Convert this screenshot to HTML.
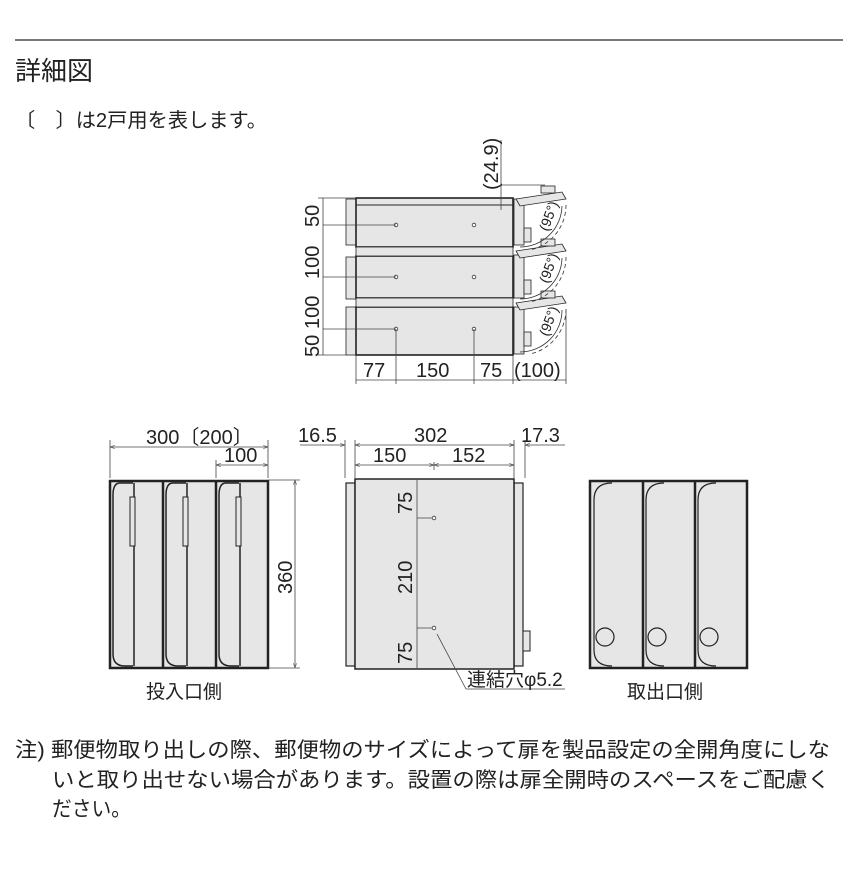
<!DOCTYPE html>
<html><head><meta charset="utf-8"><style>
html,body{margin:0;padding:0;background:#fff;}
svg{display:block;font-family:"Liberation Sans","Noto Sans CJK JP",sans-serif;}
</style></head><body>
<svg width="863" height="877" viewBox="0 0 863 877" xmlns="http://www.w3.org/2000/svg">
<defs>
<marker id="a" viewBox="0 0 6 6" refX="6" refY="3" markerWidth="6" markerHeight="6" orient="auto-start-reverse"><path d="M0,1 L6,3 L0,5" fill="none" stroke="#555" stroke-width="0.8"/></marker>
</defs>
<line x1="15" y1="40" x2="843" y2="40" stroke="#777" stroke-width="2"/>
<text x="15" y="80" font-size="26" fill="#222">詳細図</text>
<text x="15" y="127" font-size="20" fill="#222" textLength="252" lengthAdjust="spacingAndGlyphs">〔　〕は2戸用を表します。</text>

<!-- TOP VIEW -->
<g stroke="#222" fill="#e6e6e6">
<rect x="346" y="199" width="10" height="46" stroke-width="0.8"/>
<rect x="346" y="257" width="10" height="42" stroke-width="0.8"/>
<rect x="346" y="307" width="10" height="48" stroke-width="0.8"/>
<rect x="356" y="198" width="157" height="49" stroke-width="1.6"/>
<line x1="356" y1="205" x2="513" y2="205" stroke-width="1"/>
<rect x="356" y="256" width="157" height="42" stroke-width="1.6"/>
<rect x="356" y="247" width="157" height="9" stroke-width="0.8"/>
<rect x="356" y="307" width="157" height="48" stroke-width="1.6"/>
<rect x="356" y="298" width="157" height="9" stroke-width="0.8"/>
<rect x="514" y="199" width="10" height="46" stroke-width="0.8"/>
<rect x="514" y="255" width="10" height="43" stroke-width="0.8"/>
<rect x="514" y="307" width="10" height="47" stroke-width="0.8"/>
<path d="M516,199 L562,192 L566,199 L520,206 Z" stroke-width="0.8"/>
<path d="M516,251 L562,244 L566,251 L520,258 Z" stroke-width="0.8"/>
<path d="M516,303 L562,296 L566,303 L520,310 Z" stroke-width="0.8"/>
<rect x="541" y="186" width="14" height="7" stroke-width="0.8"/>
<rect x="541" y="239" width="14" height="7" stroke-width="0.8"/>
<rect x="541" y="291" width="14" height="7" stroke-width="0.8"/>
<rect x="524" y="228" width="7" height="14" stroke-width="0.8"/>
<rect x="524" y="280" width="7" height="14" stroke-width="0.8"/>
<rect x="524" y="332" width="7" height="14" stroke-width="0.8"/>
</g>
<g fill="none" stroke="#333" stroke-width="0.8">
<path d="M562,206 A42,42 0 0 1 520,247"/>
<path d="M562,258 A42,42 0 0 1 520,299"/>
<path d="M562,310 A42,42 0 0 1 520,352"/>
<path d="M566,205 A46,46 0 0 1 530,250" stroke-dasharray="4,3"/>
<path d="M566,257 A46,46 0 0 1 530,302" stroke-dasharray="4,3"/>
<path d="M566,309 A46,46 0 0 1 530,354" stroke-dasharray="4,3"/>
</g>
<g font-size="14" fill="#222">
<text transform="translate(548,232) rotate(-70)">(95°)</text>
<text transform="translate(548,284) rotate(-70)">(95°)</text>
<text transform="translate(548,337) rotate(-70)">(95°)</text>
</g>
<g fill="#fff" stroke="#333" stroke-width="0.8">
<circle cx="396" cy="225" r="1.8"/><circle cx="474" cy="225" r="1.8"/>
<circle cx="396" cy="277" r="1.8"/><circle cx="474" cy="277" r="1.8"/>
<circle cx="396" cy="329" r="1.8"/><circle cx="474" cy="329" r="1.8"/>
</g>
<g stroke="#444" stroke-width="0.8" fill="none">
<line x1="318" y1="198" x2="356" y2="198"/>
<line x1="318" y1="355" x2="346" y2="355"/>
<line x1="323" y1="198" x2="323" y2="355"/>
<line x1="323" y1="225" x2="396" y2="225"/>
<line x1="323" y1="277" x2="396" y2="277"/>
<line x1="323" y1="329" x2="396" y2="329"/>
<line x1="396" y1="329" x2="396" y2="384"/>
<line x1="474" y1="329" x2="474" y2="384"/>
<line x1="356" y1="355" x2="356" y2="384"/>
<line x1="513" y1="355" x2="513" y2="384"/>
<line x1="566" y1="310" x2="566" y2="384"/>
<line x1="356" y1="380" x2="566" y2="380"/>
<line x1="501" y1="140" x2="501" y2="210"/>
<line x1="501" y1="185" x2="545" y2="185"/>
</g>
<g font-size="20" fill="#222">
<text transform="translate(319,227) rotate(-90)">50</text>
<text transform="translate(319,279) rotate(-90)">100</text>
<text transform="translate(319,329) rotate(-90)">100</text>
<text transform="translate(319,357) rotate(-90)">50</text>
<text transform="translate(498,190) rotate(-90)">(24.9)</text>
<text x="363" y="377">77</text>
<text x="416" y="377">150</text>
<text x="480" y="377">75</text>
<text x="514" y="377">(100)</text>
</g>

<!-- FRONT LEFT -->
<g stroke="#222" stroke-width="2.5" fill="#e6e6e6">
<rect x="110" y="481" width="158" height="187"/>
<line x1="163" y1="481" x2="163" y2="668"/>
<line x1="216" y1="481" x2="216" y2="668"/>
</g>
<g stroke="#222" stroke-width="1.5" fill="none">
<path d="M133,483 L120,483 Q113,483 113,495 L113,654 Q113,666 125,666 L133,666"/>
<path d="M186,483 L173,483 Q166,483 166,495 L166,654 Q166,666 178,666 L186,666"/>
<path d="M239,483 L226,483 Q219,483 219,495 L219,654 Q219,666 231,666 L239,666"/>
<line x1="134" y1="483" x2="134" y2="666"/>
<line x1="187" y1="483" x2="187" y2="666"/>
<line x1="240" y1="483" x2="240" y2="666"/>
</g>
<g fill="#e6e6e6" stroke="#222" stroke-width="1">
<rect x="130" y="497" width="5" height="49"/>
<rect x="183" y="497" width="5" height="49"/>
<rect x="236" y="497" width="5" height="49"/>
</g>
<g stroke="#444" stroke-width="0.8" fill="none">
<line x1="110" y1="440" x2="110" y2="478"/>
<line x1="268" y1="440" x2="268" y2="478"/>
<line x1="216" y1="460" x2="216" y2="478"/>
<line x1="110" y1="447" x2="268" y2="447" marker-start="url(#a)" marker-end="url(#a)"/>
<line x1="216" y1="465" x2="268" y2="465" marker-start="url(#a)" marker-end="url(#a)"/>
<line x1="268" y1="480" x2="300" y2="480"/>
<line x1="268" y1="668" x2="300" y2="668"/>
<line x1="295" y1="480" x2="295" y2="668" marker-start="url(#a)" marker-end="url(#a)"/>
</g>
<g font-size="20" fill="#222">
<text x="146" y="444">300〔200〕</text>
<text x="224" y="462">100</text>
<text transform="translate(292,594) rotate(-90)">360</text>
<text x="146" y="698" font-size="19">投入口側</text>
</g>

<!-- SIDE MIDDLE -->
<g stroke="#222" fill="#e6e6e6">
<rect x="346" y="483" width="9" height="183" stroke-width="1.2"/>
<rect x="514" y="483" width="9" height="183" stroke-width="1.2"/>
<rect x="355" y="479" width="159" height="190" stroke-width="1.5"/>
<rect x="523" y="631" width="7" height="20" stroke-width="1"/>
</g>
<g stroke="#444" stroke-width="0.8" fill="none">
<line x1="345" y1="440" x2="345" y2="478"/>
<line x1="355" y1="440" x2="355" y2="478"/>
<line x1="514" y1="440" x2="514" y2="478"/>
<line x1="525" y1="440" x2="525" y2="478"/>
<line x1="434" y1="462" x2="434" y2="470"/>
<line x1="300" y1="445" x2="345" y2="445" marker-end="url(#a)"/>
<line x1="355" y1="445" x2="514" y2="445" marker-start="url(#a)" marker-end="url(#a)"/>
<line x1="525" y1="445" x2="565" y2="445" marker-start="url(#a)"/>
<line x1="355" y1="465" x2="434" y2="465" marker-start="url(#a)" marker-end="url(#a)"/>
<line x1="434" y1="465" x2="514" y2="465" marker-start="url(#a)" marker-end="url(#a)"/>
<line x1="417" y1="480" x2="417" y2="668"/>
<line x1="417" y1="518" x2="434" y2="518"/>
<line x1="417" y1="628" x2="434" y2="628"/>
<line x1="437" y1="634" x2="466" y2="689"/>
<line x1="466" y1="689" x2="565" y2="689"/>
</g>
<g fill="#fff" stroke="#333" stroke-width="0.8">
<circle cx="434" cy="518" r="1.8"/><circle cx="434" cy="628" r="1.8"/>
</g>
<g font-size="20" fill="#222">
<text x="298" y="442">16.5</text>
<text x="414" y="442">302</text>
<text x="521" y="442">17.3</text>
<text x="373" y="462">150</text>
<text x="452" y="462">152</text>
<text transform="translate(412,514) rotate(-90)">75</text>
<text transform="translate(412,594) rotate(-90)">210</text>
<text transform="translate(412,664) rotate(-90)">75</text>
<text x="467" y="686" font-size="19">連結穴φ5.2</text>
</g>

<!-- BACK RIGHT -->
<g stroke="#222" stroke-width="2.5" fill="#e6e6e6">
<rect x="590" y="481" width="157" height="187"/>
<line x1="643" y1="481" x2="643" y2="668"/>
<line x1="695" y1="481" x2="695" y2="668"/>
</g>
<g stroke="#222" stroke-width="1.2" fill="none">
<path d="M612,483 Q594,483 594,500 L594,650 Q594,666 612,666"/>
<path d="M664,483 Q646,483 646,500 L646,650 Q646,666 664,666"/>
<path d="M716,483 Q698,483 698,500 L698,650 Q698,666 716,666"/>
<circle cx="605" cy="637" r="9"/>
<circle cx="657" cy="637" r="9"/>
<circle cx="709" cy="637" r="9"/>
</g>
<text x="627" y="698" font-size="19" fill="#222">取出口側</text>

<!-- NOTE -->
<g font-size="21" fill="#222">
<text x="15" y="757" textLength="815" lengthAdjust="spacingAndGlyphs">注) 郵便物取り出しの際、郵便物のサイズによって扉を製品設定の全開角度にしな</text>
<text x="52" y="787" textLength="778" lengthAdjust="spacingAndGlyphs">いと取り出せない場合があります。設置の際は扉全開時のスペースをご配慮く</text>
<text x="52" y="816" textLength="79" lengthAdjust="spacingAndGlyphs">ださい。</text>
</g>
</svg>
</body></html>
